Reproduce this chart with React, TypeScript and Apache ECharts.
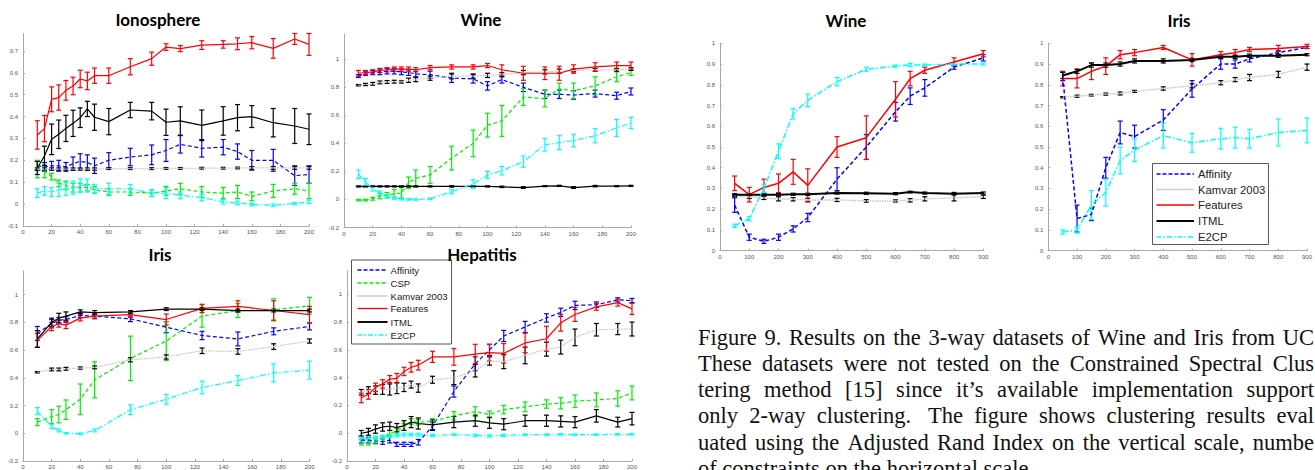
import React, { useEffect, useRef } from "react";
import * as echarts from "echarts";

// ---------- x values ----------
const xLeft = [10, 15, 20, 25, 30, 35, 40, 45, 50, 60, 75, 90, 100, 110, 125, 140, 150, 160, 175, 190, 200];
const xIrisLeft = [10, 20, 25, 30, 40, 50, 75, 100, 125, 150, 175, 200];
const xRight = [50, 100, 150, 200, 250, 300, 400, 500, 600, 650, 700, 800, 900];

// ---------- Ionosphere ----------
const ionoAff = [0.175, 0.17, 0.175, 0.175, 0.17, 0.185, 0.195, 0.19, 0.175, 0.2, 0.215, 0.225, 0.245, 0.273, 0.255, 0.26, 0.24, 0.2, 0.2, 0.13, 0.135];
const ionoAffE = [0.02, 0.02, 0.02, 0.025, 0.02, 0.03, 0.035, 0.035, 0.035, 0.035, 0.04, 0.045, 0.05, 0.04, 0.04, 0.035, 0.035, 0.045, 0.05, 0.045, 0.04];
const ionoCSP = [0.16, 0.15, 0.125, 0.095, 0.085, 0.075, 0.075, 0.075, 0.065, 0.055, 0.055, 0.05, 0.06, 0.07, 0.055, 0.05, 0.055, 0.035, 0.06, 0.07, 0.06];
const ionoCSPE = [0.04, 0.03, 0.015, 0.015, 0.02, 0.02, 0.02, 0.015, 0.015, 0.015, 0.015, 0.015, 0.02, 0.025, 0.025, 0.025, 0.03, 0.02, 0.03, 0.025, 0.035];
const ionoKam = [0.16, 0.16, 0.16, 0.16, 0.16, 0.16, 0.16, 0.16, 0.16, 0.162, 0.162, 0.162, 0.163, 0.163, 0.164, 0.164, 0.165, 0.165, 0.165, 0.165, 0.165];
const ionoKamE = [0.005, 0.005, 0.005, 0.005, 0.005, 0.005, 0.005, 0.005, 0.005, 0.004, 0.004, 0.004, 0.004, 0.004, 0.004, 0.004, 0.004, 0.006, 0.006, 0.006, 0.006];
const ionoFeat = [0.316, 0.345, 0.479, 0.487, 0.52, 0.54, 0.572, 0.563, 0.587, 0.587, 0.628, 0.665, 0.718, 0.711, 0.727, 0.73, 0.733, 0.738, 0.712, 0.755, 0.73];
const ionoFeatE = [0.065, 0.06, 0.057, 0.058, 0.045, 0.04, 0.04, 0.04, 0.035, 0.035, 0.037, 0.03, 0.015, 0.014, 0.02, 0.017, 0.027, 0.028, 0.045, 0.025, 0.05];
const ionoITML = [0.165, 0.22, 0.296, 0.319, 0.346, 0.369, 0.395, 0.435, 0.397, 0.377, 0.43, 0.425, 0.374, 0.38, 0.36, 0.38, 0.395, 0.4, 0.372, 0.357, 0.342];
const ionoITMLE = [0.03, 0.045, 0.07, 0.065, 0.06, 0.06, 0.045, 0.035, 0.06, 0.06, 0.035, 0.04, 0.06, 0.065, 0.07, 0.065, 0.06, 0.05, 0.065, 0.08, 0.07];
const ionoE2 = [0.05, 0.06, 0.055, 0.065, 0.07, 0.075, 0.085, 0.085, 0.07, 0.07, 0.07, 0.05, 0.05, 0.04, 0.03, 0.01, 0.005, -0.002, -0.005, 0.002, 0.01];
const ionoE2E = [0.02, 0.02, 0.02, 0.03, 0.03, 0.03, 0.03, 0.03, 0.02, 0.025, 0.02, 0.015, 0.025, 0.015, 0.015, 0.01, 0.008, 0.005, 0.005, 0.005, 0.008];

// ---------- Wine (left) ----------
const wineLAff = [0.88, 0.9, 0.905, 0.91, 0.915, 0.915, 0.91, 0.905, 0.895, 0.89, 0.865, 0.86, 0.81, 0.855, 0.8, 0.75, 0.75, 0.745, 0.755, 0.74, 0.77];
const wineLAffE = [0.01, 0.015, 0.015, 0.02, 0.02, 0.02, 0.02, 0.02, 0.02, 0.025, 0.03, 0.03, 0.03, 0.025, 0.03, 0.03, 0.03, 0.03, 0.025, 0.025, 0.025];
const wineLCSP = [-0.005, -0.005, 0.005, 0.025, 0.03, 0.04, 0.045, 0.12, 0.15, 0.175, 0.295, 0.4, 0.53, 0.56, 0.73, 0.72, 0.79, 0.775, 0.81, 0.875, 0.905];
const wineLCSPE = [0.005, 0.005, 0.01, 0.02, 0.02, 0.03, 0.04, 0.04, 0.06, 0.06, 0.085, 0.095, 0.085, 0.11, 0.06, 0.06, 0.04, 0.055, 0.065, 0.035, 0.02];
const wineLKam = [0.815, 0.82, 0.825, 0.835, 0.838, 0.84, 0.838, 0.85, 0.855, 0.865, 0.88, 0.88, 0.885, 0.89, 0.905, 0.91, 0.915, 0.92, 0.925, 0.925, 0.93];
const wineLKamE = [0.005, 0.008, 0.01, 0.01, 0.01, 0.01, 0.008, 0.015, 0.015, 0.015, 0.02, 0.015, 0.015, 0.015, 0.015, 0.015, 0.015, 0.01, 0.01, 0.01, 0.01];
const wineLFeat = [0.9, 0.905, 0.91, 0.92, 0.925, 0.93, 0.93, 0.93, 0.925, 0.94, 0.945, 0.945, 0.955, 0.925, 0.9, 0.9, 0.9, 0.93, 0.945, 0.955, 0.955];
const wineLFeatE = [0.02, 0.015, 0.015, 0.015, 0.015, 0.015, 0.015, 0.015, 0.015, 0.015, 0.015, 0.015, 0.015, 0.035, 0.05, 0.045, 0.05, 0.03, 0.03, 0.025, 0.025];
const wineLITML = [0.093, 0.093, 0.093, 0.093, 0.093, 0.093, 0.093, 0.093, 0.093, 0.093, 0.093, 0.093, 0.093, 0.09, 0.085, 0.095, 0.097, 0.085, 0.095, 0.095, 0.097];
const wineLITMLE = [0.004, 0.004, 0.004, 0.004, 0.004, 0.004, 0.004, 0.004, 0.004, 0.004, 0.005, 0.004, 0.004, 0.005, 0.006, 0.004, 0.004, 0.006, 0.005, 0.004, 0.004];
const wineLE2 = [0.18, 0.125, 0.075, 0.045, 0.025, 0.01, 0.005, 0.0, 0.0, 0.005, 0.055, 0.11, 0.175, 0.205, 0.27, 0.39, 0.405, 0.42, 0.455, 0.51, 0.545];
const wineLE2E = [0.03, 0.025, 0.015, 0.015, 0.01, 0.008, 0.008, 0.005, 0.005, 0.005, 0.015, 0.03, 0.025, 0.03, 0.04, 0.045, 0.05, 0.045, 0.05, 0.06, 0.04];

// ---------- Iris (left) ----------
const irisLAff = [0.72, 0.79, 0.815, 0.82, 0.85, 0.845, 0.825, 0.765, 0.705, 0.68, 0.735, 0.77];
const irisLAffE = [0.05, 0.03, 0.02, 0.02, 0.015, 0.015, 0.02, 0.04, 0.03, 0.05, 0.025, 0.025];
const irisLCSP = [0.08, 0.12, 0.135, 0.17, 0.245, 0.385, 0.54, 0.665, 0.845, 0.885, 0.89, 0.92];
const irisLCSPE = [0.025, 0.05, 0.06, 0.07, 0.11, 0.13, 0.16, 0.14, 0.08, 0.05, 0.08, 0.06];
const irisLKam = [0.44, 0.46, 0.46, 0.465, 0.47, 0.475, 0.53, 0.55, 0.595, 0.59, 0.625, 0.665];
const irisLKamE = [0.005, 0.01, 0.01, 0.01, 0.008, 0.01, 0.015, 0.015, 0.02, 0.02, 0.02, 0.015];
const irisLFeat = [0.67, 0.77, 0.79, 0.78, 0.83, 0.845, 0.855, 0.82, 0.9, 0.915, 0.885, 0.855];
const irisLFeatE = [0.05, 0.03, 0.025, 0.025, 0.02, 0.02, 0.02, 0.04, 0.03, 0.04, 0.07, 0.06];
const irisLITML = [0.68, 0.8, 0.83, 0.845, 0.875, 0.87, 0.875, 0.895, 0.895, 0.885, 0.885, 0.885];
const irisLITMLE = [0.06, 0.03, 0.035, 0.03, 0.015, 0.015, 0.01, 0.01, 0.01, 0.01, 0.01, 0.01];
const irisLE2 = [0.16, 0.05, 0.02, 0.0, -0.003, 0.02, 0.17, 0.245, 0.33, 0.38, 0.435, 0.455];
const irisLE2E = [0.025, 0.015, 0.01, 0.005, 0.005, 0.01, 0.035, 0.035, 0.045, 0.035, 0.065, 0.065];

// ---------- Hepatitis ----------
const hepAff = [-0.05, -0.05, -0.055, -0.06, -0.05, -0.08, -0.08, -0.08, -0.065, 0.05, 0.3, 0.5, 0.6, 0.7, 0.765, 0.83, 0.87, 0.92, 0.925, 0.96, 0.955];
const hepAffE = [0.02, 0.02, 0.02, 0.02, 0.02, 0.015, 0.015, 0.015, 0.02, 0.03, 0.04, 0.05, 0.04, 0.04, 0.04, 0.03, 0.03, 0.03, 0.02, 0.015, 0.015];
const hepCSP = [-0.065, -0.065, -0.055, -0.04, 0.0, 0.015, 0.045, 0.085, 0.08, 0.085, 0.125, 0.155, 0.135, 0.17, 0.19, 0.21, 0.215, 0.23, 0.24, 0.25, 0.29];
const hepCSPE = [0.02, 0.02, 0.015, 0.02, 0.02, 0.02, 0.025, 0.02, 0.02, 0.02, 0.03, 0.035, 0.025, 0.03, 0.035, 0.03, 0.04, 0.045, 0.05, 0.055, 0.05];
const hepKam = [0.295, 0.31, 0.31, 0.315, 0.315, 0.325, 0.33, 0.35, 0.325, 0.385, 0.4, 0.45, 0.52, 0.515, 0.56, 0.605, 0.62, 0.69, 0.745, 0.75, 0.75];
const hepKamE = [0.02, 0.025, 0.03, 0.035, 0.04, 0.04, 0.03, 0.025, 0.03, 0.025, 0.05, 0.045, 0.03, 0.05, 0.06, 0.05, 0.05, 0.06, 0.045, 0.04, 0.05];
const hepFeat = [0.255, 0.28, 0.33, 0.355, 0.39, 0.395, 0.445, 0.475, 0.49, 0.55, 0.55, 0.57, 0.58, 0.575, 0.65, 0.68, 0.795, 0.855, 0.91, 0.94, 0.895];
const hepFeatE = [0.035, 0.035, 0.03, 0.03, 0.025, 0.035, 0.03, 0.035, 0.035, 0.04, 0.06, 0.07, 0.06, 0.07, 0.07, 0.09, 0.06, 0.05, 0.025, 0.025, 0.04];
const hepITML = [0.0, 0.01, 0.03, 0.045, 0.05, 0.04, 0.055, 0.08, 0.07, 0.06, 0.08, 0.09, 0.075, 0.065, 0.09, 0.09, 0.085, 0.08, 0.125, 0.08, 0.105];
const hepITMLE = [0.02, 0.025, 0.03, 0.03, 0.03, 0.03, 0.035, 0.04, 0.04, 0.035, 0.04, 0.04, 0.04, 0.04, 0.04, 0.04, 0.04, 0.04, 0.045, 0.035, 0.045];
const hepE2 = [-0.04, -0.035, -0.03, -0.025, -0.02, -0.015, -0.01, -0.01, -0.01, -0.015, -0.01, -0.015, -0.02, -0.015, -0.01, -0.01, -0.008, -0.01, -0.01, -0.008, -0.008];
const hepE2E = [0.01, 0.01, 0.01, 0.01, 0.01, 0.01, 0.01, 0.01, 0.01, 0.008, 0.005, 0.008, 0.008, 0.008, 0.005, 0.005, 0.005, 0.005, 0.005, 0.005, 0.005];

// ---------- Wine (right) ----------
const wineRAff = [0.22, 0.065, 0.045, 0.065, 0.105, 0.16, 0.345, 0.5, 0.67, 0.745, 0.785, 0.885, 0.93];
const wineRAffE = [0.035, 0.015, 0.01, 0.015, 0.015, 0.02, 0.055, 0.06, 0.045, 0.04, 0.04, 0.01, 0.015];
const wineRKam = [0.265, 0.26, 0.255, 0.25, 0.248, 0.245, 0.245, 0.24, 0.24, 0.243, 0.25, 0.255, 0.26];
const wineRKamE = [0.005, 0.008, 0.008, 0.01, 0.008, 0.008, 0.008, 0.006, 0.005, 0.008, 0.01, 0.015, 0.008];
const wineRFeat = [0.325, 0.27, 0.305, 0.325, 0.38, 0.315, 0.5, 0.545, 0.73, 0.83, 0.87, 0.91, 0.95];
const wineRFeatE = [0.035, 0.035, 0.04, 0.045, 0.06, 0.08, 0.05, 0.105, 0.085, 0.035, 0.015, 0.02, 0.015];
const wineRITML = [0.27, 0.27, 0.27, 0.27, 0.272, 0.272, 0.278, 0.277, 0.275, 0.283, 0.278, 0.275, 0.278];
const wineRITMLE = [0.005, 0.005, 0.005, 0.006, 0.005, 0.005, 0.005, 0.005, 0.005, 0.004, 0.005, 0.006, 0.005];
const wineRE2 = [0.12, 0.155, 0.3, 0.48, 0.66, 0.725, 0.815, 0.875, 0.89, 0.895, 0.895, 0.9, 0.9];
const wineRE2E = [0.008, 0.01, 0.02, 0.035, 0.025, 0.03, 0.02, 0.01, 0.005, 0.008, 0.005, 0.005, 0.005];

// ---------- Iris (right) ----------
const irisRAff = [0.84, 0.155, 0.175, 0.4, 0.57, 0.55, 0.63, 0.78, 0.9, 0.9, 0.925, 0.955, 0.98];
const irisRAffE = [0.02, 0.065, 0.03, 0.05, 0.055, 0.055, 0.05, 0.04, 0.025, 0.02, 0.015, 0.01, 0.005];
const irisRKam = [0.74, 0.745, 0.75, 0.755, 0.758, 0.768, 0.782, 0.795, 0.81, 0.825, 0.835, 0.85, 0.885];
const irisRKamE = [0.003, 0.005, 0.004, 0.005, 0.007, 0.005, 0.008, 0.01, 0.01, 0.01, 0.015, 0.015, 0.015];
const irisRFeat = [0.83, 0.83, 0.865, 0.89, 0.945, 0.955, 0.98, 0.92, 0.945, 0.955, 0.97, 0.975, 0.985];
const irisRFeatE = [0.035, 0.045, 0.04, 0.04, 0.02, 0.015, 0.01, 0.03, 0.015, 0.015, 0.01, 0.015, 0.01];
const irisRITML = [0.845, 0.865, 0.895, 0.895, 0.9, 0.915, 0.915, 0.92, 0.935, 0.935, 0.94, 0.94, 0.945];
const irisRITMLE = [0.015, 0.01, 0.01, 0.01, 0.01, 0.01, 0.01, 0.008, 0.008, 0.008, 0.008, 0.008, 0.005];
const irisRE2 = [0.09, 0.1, 0.22, 0.28, 0.435, 0.485, 0.555, 0.52, 0.54, 0.545, 0.54, 0.57, 0.58];
const irisRE2E = [0.01, 0.015, 0.07, 0.065, 0.065, 0.055, 0.06, 0.045, 0.05, 0.05, 0.045, 0.065, 0.06];

// ---------- texts ----------
const LEGEND_LEFT = ["Affinity", "CSP", "Kamvar 2003", "Features", "ITML", "E2CP"];
const LEGEND_RIGHT = ["Affinity", "Kamvar 2003", "Features", "ITML", "E2CP"];
// caption lines as visible in the reference (the column is cut at the right edge)
const CAPTION_LINES = [
  "Figure 9. Results on the 3-way datasets of Wine and Iris from UC",
  "These datasets were not tested on the Constrained Spectral Clus",
  "tering method [15] since it’s available implementation support",
  "only 2-way clustering.  The figure shows clustering results eval",
  "uated using the Adjusted Rand Index on the vertical scale, numbe",
  "of constraints on the horizontal scale.",
];

// ---------- styles ----------
const STY: Record<string, { color: string; err: string; dash: any; legendDash: any }> = {
  Affinity: { color: "#0000ff", err: "#0000ff", dash: [4, 2.5], legendDash: [4, 2] },
  CSP: { color: "#00ee00", err: "#00ee00", dash: [4, 2.5], legendDash: [4, 2] },
  "Kamvar 2003": { color: "#c4c4c4", err: "#000000", dash: [1.5, 1], legendDash: [1, 1] },
  Features: { color: "#ff0000", err: "#ff0000", dash: "solid", legendDash: null },
  ITML: { color: "#000000", err: "#000000", dash: "solid", legendDash: null },
  E2CP: { color: "#00ffff", err: "#00ffff", dash: [6, 2, 1.5, 2], legendDash: [5, 2, 1.5, 2] },
};

type Ser = { name: string; x: number[]; y: number[]; e: number[] };

const PANELS = [
  {
    title: "Ionosphere", tx: 158, ty: 19,
    grid: { left: 23, top: 33.5, width: 286, height: 192.4 },
    xr: [0, 200, 20], yr: [-0.1, 0.78, 0.1], lw: 1.2,
    series: [
      { name: "Affinity", x: xLeft, y: ionoAff, e: ionoAffE },
      { name: "CSP", x: xLeft, y: ionoCSP, e: ionoCSPE },
      { name: "Kamvar 2003", x: xLeft, y: ionoKam, e: ionoKamE },
      { name: "Features", x: xLeft, y: ionoFeat, e: ionoFeatE },
      { name: "ITML", x: xLeft, y: ionoITML, e: ionoITMLE },
      { name: "E2CP", x: xLeft, y: ionoE2, e: ionoE2E },
    ] as Ser[],
  },
  {
    title: "Wine", tx: 481, ty: 19,
    grid: { left: 344, top: 34, width: 287, height: 193.5 },
    xr: [0, 200, 20], yr: [-0.2, 1.18, 0.2], lw: 1.2,
    series: [
      { name: "Affinity", x: xLeft, y: wineLAff, e: wineLAffE },
      { name: "CSP", x: xLeft, y: wineLCSP, e: wineLCSPE },
      { name: "Kamvar 2003", x: xLeft, y: wineLKam, e: wineLKamE },
      { name: "Features", x: xLeft, y: wineLFeat, e: wineLFeatE },
      { name: "ITML", x: xLeft, y: wineLITML, e: wineLITMLE },
      { name: "E2CP", x: xLeft, y: wineLE2, e: wineLE2E },
    ] as Ser[],
  },
  {
    title: "Iris", tx: 160, ty: 254,
    grid: { left: 23, top: 271, width: 286.5, height: 191 },
    xr: [0, 200, 20], yr: [-0.2, 1.17, 0.2], lw: 1.2,
    series: [
      { name: "Affinity", x: xIrisLeft, y: irisLAff, e: irisLAffE },
      { name: "CSP", x: xIrisLeft, y: irisLCSP, e: irisLCSPE },
      { name: "Kamvar 2003", x: xIrisLeft, y: irisLKam, e: irisLKamE },
      { name: "Features", x: xIrisLeft, y: irisLFeat, e: irisLFeatE },
      { name: "ITML", x: xIrisLeft, y: irisLITML, e: irisLITMLE },
      { name: "E2CP", x: xIrisLeft, y: irisLE2, e: irisLE2E },
    ] as Ser[],
  },
  {
    title: "Hepatitis", tx: 482, ty: 254,
    grid: { left: 347, top: 270.7, width: 285, height: 191.3 },
    xr: [0, 200, 20], yr: [-0.2, 1.17, 0.2], lw: 1.2,
    series: [
      { name: "Affinity", x: xLeft, y: hepAff, e: hepAffE },
      { name: "CSP", x: xLeft, y: hepCSP, e: hepCSPE },
      { name: "Kamvar 2003", x: xLeft, y: hepKam, e: hepKamE },
      { name: "Features", x: xLeft, y: hepFeat, e: hepFeatE },
      { name: "ITML", x: xLeft, y: hepITML, e: hepITMLE },
      { name: "E2CP", x: xLeft, y: hepE2, e: hepE2E },
    ] as Ser[],
  },
  {
    title: "Wine", tx: 846, ty: 20,
    grid: { left: 720, top: 43.3, width: 263.3, height: 207.4 },
    xr: [0, 900, 100], yr: [0, 1, 0.1], lw: 1.5,
    series: [
      { name: "Affinity", x: xRight, y: wineRAff, e: wineRAffE },
      { name: "Kamvar 2003", x: xRight, y: wineRKam, e: wineRKamE },
      { name: "Features", x: xRight, y: wineRFeat, e: wineRFeatE },
      { name: "ITML", x: xRight, y: wineRITML, e: wineRITMLE },
      { name: "E2CP", x: xRight, y: wineRE2, e: wineRE2E },
    ] as Ser[],
  },
  {
    title: "Iris", tx: 1179, ty: 20,
    grid: { left: 1048.3, top: 43.3, width: 262.7, height: 207.4 },
    xr: [0, 900, 100], yr: [0, 1, 0.1], lw: 1.5,
    series: [
      { name: "Affinity", x: xRight, y: irisRAff, e: irisRAffE },
      { name: "Kamvar 2003", x: xRight, y: irisRKam, e: irisRKamE },
      { name: "Features", x: xRight, y: irisRFeat, e: irisRFeatE },
      { name: "ITML", x: xRight, y: irisRITML, e: irisRITMLE },
      { name: "E2CP", x: xRight, y: irisRE2, e: irisRE2E },
    ] as Ser[],
  },
];

const TICK_FONT = "Liberation Sans";
const AXIS_COLOR = "#a8a8a8";

function errRender(color: string, lw: number, cap: number) {
  return (_params: any, api: any) => {
    const x = api.value(0);
    const y = api.value(1);
    const e = api.value(2);
    const p1 = api.coord([x, y + e]);
    const p2 = api.coord([x, y - e]);
    const st = { stroke: color, lineWidth: lw };
    return {
      type: "group",
      children: [
        { type: "line", shape: { x1: p1[0], y1: p1[1], x2: p2[0], y2: p2[1] }, style: st },
        { type: "line", shape: { x1: p1[0] - cap, y1: p1[1], x2: p1[0] + cap, y2: p1[1] }, style: st },
        { type: "line", shape: { x1: p2[0] - cap, y1: p2[1], x2: p2[0] + cap, y2: p2[1] }, style: st },
      ],
    };
  };
}

function fmt(v: number) {
  return String(Math.round(v * 100) / 100);
}

function buildLegend(names: string[], box: { x: number; y: number; w: number; h: number }, rowY: number[], lineX: [number, number], textX: number, fontSize: number, lw: number) {
  const els: any[] = [];
  els.push({
    type: "rect", z: 100,
    shape: { x: box.x, y: box.y, width: box.w, height: box.h },
    style: { fill: "#ffffff", stroke: "#555555", lineWidth: 1 },
  });
  names.forEach((n, i) => {
    const s = STY[n];
    els.push({
      type: "line", z: 101,
      shape: { x1: lineX[0], y1: rowY[i], x2: lineX[1], y2: rowY[i] },
      style: { stroke: n === "Kamvar 2003" ? "#999999" : s.color, lineWidth: n === "ITML" ? lw + 0.6 : lw, lineDash: s.legendDash },
    });
    els.push({
      type: "text", z: 101, x: textX, y: rowY[i],
      style: { text: n, font: `${fontSize}px "${TICK_FONT}"`, fill: "#222222", textAlign: "left", textVerticalAlign: "middle" },
    });
  });
  return els;
}

function captionElements() {
  const els: any[] = [];
  const fontSize = 22.5;
  const font = `${fontSize}px "Liberation Serif"`;
  const x0 = 698;
  const xEnd = 1314;
  const W = xEnd - x0;
  const lineY0 = 337;
  const lineH = 26.3;
  const canvas = document.createElement("canvas");
  const ctx = canvas.getContext("2d") as CanvasRenderingContext2D;
  ctx.font = font;
  const space = ctx.measureText(" ").width;
  CAPTION_LINES.forEach((line, li) => {
    const y = lineY0 + li * lineH;
    const last = li === CAPTION_LINES.length - 1;
    const parts = line.split(" ");
    const words: string[] = [];
    const weights: number[] = [];
    let pendingExtra = 0;
    parts.forEach((p) => {
      if (p === "") { pendingExtra = 0.5; return; }
      if (words.length > 0) weights.push(1 + pendingExtra);
      pendingExtra = 0;
      words.push(p);
    });
    const widths = words.map((w) => ctx.measureText(w).width);
    const sum = widths.reduce((a, b) => a + b, 0);
    const totalW = weights.reduce((a, b) => a + b, 0);
    let unit = last || totalW === 0 ? space : (W - sum) / totalW;
    if (unit < space * 0.55) unit = space * 0.55;
    let x = x0;
    words.forEach((w, i) => {
      els.push({
        type: "text", z: 50, x, y,
        style: { text: w, font, fill: "#111111", textAlign: "left", textVerticalAlign: "middle" },
      });
      x += widths[i] + (i < weights.length ? weights[i] * unit : 0);
    });
  });
  return els;
}

export default function App() {
  const ref = useRef<HTMLDivElement>(null);
  useEffect(() => {
    if (!ref.current) return;
    const chart = echarts.init(ref.current, undefined, { renderer: "svg" });
    const grids: any[] = [];
    const xAxes: any[] = [];
    const yAxes: any[] = [];
    const series: any[] = [];
    const graphics: any[] = [];
    PANELS.forEach((p, gi) => {
      grids.push({ ...p.grid, containLabel: false });
      xAxes.push({
        gridIndex: gi, type: "value", min: p.xr[0], max: p.xr[1], interval: p.xr[2],
        axisLine: { onZero: false, lineStyle: { color: AXIS_COLOR, width: 1 } },
        axisTick: { inside: true, length: 2, lineStyle: { color: AXIS_COLOR } },
        axisLabel: { fontSize: 6, color: "#555555", margin: 3, fontFamily: TICK_FONT, formatter: fmt },
        splitLine: { show: false },
      });
      yAxes.push({
        gridIndex: gi, type: "value", min: p.yr[0], max: p.yr[1], interval: p.yr[2],
        axisLine: { show: true, onZero: false, lineStyle: { color: AXIS_COLOR, width: 1 } },
        axisTick: { show: true, inside: true, length: 2, lineStyle: { color: AXIS_COLOR } },
        axisLabel: { fontSize: 6, color: "#555555", margin: 5, fontFamily: TICK_FONT, formatter: fmt, showMaxLabel: p.yr[1] === 1 },
        splitLine: { show: false },
      });
      p.series.forEach((s) => {
        const st = STY[s.name];
        const lw = s.name === "ITML" && p.lw > 1.3 ? 2 : p.lw;
        series.push({
          type: "line", name: s.name, xAxisIndex: gi, yAxisIndex: gi,
          data: s.x.map((x, k) => [x, s.y[k]]),
          symbol: "none", silent: true,
          lineStyle: { color: st.color, width: lw, type: st.dash },
        });
        series.push({
          type: "custom", name: s.name + " err", xAxisIndex: gi, yAxisIndex: gi,
          data: s.x.map((x, k) => [x, s.y[k], s.e[k]]),
          encode: { x: 0, y: 1 }, silent: true, clip: false,
          renderItem: errRender(st.err, 1.2, 2.5),
        });
      });
      graphics.push({
        type: "text", z: 110, x: p.tx, y: p.ty,
        style: { text: p.title, font: 'bold 17px "Lato"', fill: "#000000", textAlign: "center", textVerticalAlign: "middle" },
      });
    });
    graphics.push(
      ...buildLegend(LEGEND_LEFT, { x: 351.5, y: 260, w: 100, h: 84 },
        [270, 283, 296, 308.5, 322, 335], [357.5, 387.5], 390.5, 9.6, 1.3)
    );
    graphics.push(
      ...buildLegend(LEGEND_RIGHT, { x: 1152.5, y: 163.5, w: 116, h: 81 },
        [174, 189.5, 205, 221, 237], [1156.5, 1194], 1198, 11.3, 1.5)
    );
    graphics.push(...captionElements());
    chart.setOption({
      animation: false,
      backgroundColor: "#ffffff",
      grid: grids,
      xAxis: xAxes,
      yAxis: yAxes,
      series,
      graphic: { elements: graphics },
    });
    return () => chart.dispose();
  }, []);
  return <div ref={ref} style={{ position: "absolute", left: 0, top: 0, width: 1315, height: 470 }} />;
}
